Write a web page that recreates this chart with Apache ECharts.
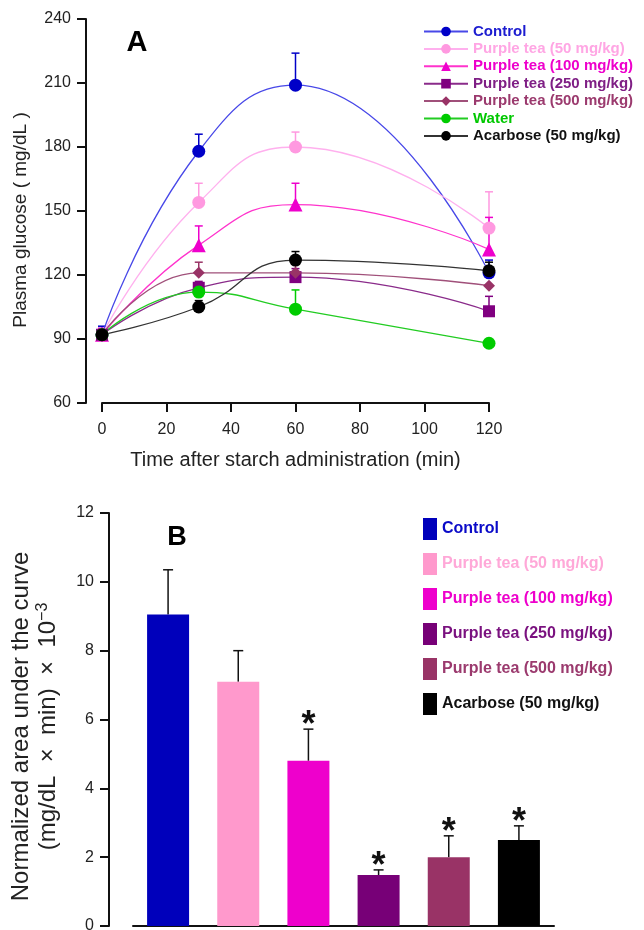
<!DOCTYPE html>
<html>
<head>
<meta charset="utf-8">
<script src="https://cdn.jsdelivr.net/npm/echarts@6/dist/echarts.min.js"></script>
<style>
  html, body { margin: 0; padding: 0; background: #fff; }
  #chart { width: 644px; height: 930px; }
</style>
</head>
<body>
<div id="chart"></div>
<script>
  // panel A: plasma glucose after starch load
  var times = [0, 30, 60, 120];
  var groupNames = ['Control', 'Purple tea (50 mg/kg)', 'Purple tea (100 mg/kg)', 'Purple tea (250 mg/kg)',
    'Purple tea (500 mg/kg)', 'Water', 'Acarbose (50 mg/kg)'];
  var control = [92, 178, 209, 121];
  var tea50 = [92, 154, 180, 142];
  var tea100 = [92, 134, 153, 132];
  var tea250 = [92, 114, 119, 103];
  var tea500 = [92, 121, 121, 115];
  var water = [92, 112, 104, 88];
  var acarbose = [92, 105, 127, 122];
  // upper error bars (SEM)
  var controlErr = [4, 8, 15, 6];
  var tea50Err = [3, 9, 7, 17];
  var tea100Err = [3, 9, 10, 15];
  var tea250Err = [2, 3, 4, 7];
  var tea500Err = [2, 5, 4, 0];
  var waterErr = [2, 2, 9, 0];
  var acarboseErr = [2, 3, 4, 4];

  // panel B: normalized AUC
  var aucNames = ['Control', 'Purple tea (50 mg/kg)', 'Purple tea (100 mg/kg)', 'Purple tea (250 mg/kg)',
    'Purple tea (500 mg/kg)', 'Acarbose (50 mg/kg)'];
  var aucValues = [9.05, 7.1, 4.8, 1.48, 2.0, 2.5];
  var aucErr = [1.3, 0.9, 0.92, 0.15, 0.62, 0.41];
  var aucSig = ['', '', '*', '*', '*', '*'];

  var groupValues = [control, tea50, tea100, tea250, tea500, water, acarbose];
  var groupErrs = [controlErr, tea50Err, tea100Err, tea250Err, tea500Err, waterErr, acarboseErr];

  var markerColors = ['#0000c8', '#ff99e0', '#ee00cc', '#800080', '#993366', '#00cc00', '#000000'];
  var lineColors = ['#4848e8', '#ffb0ee', '#ff33cc', '#8a2b8a', '#a0507a', '#22cc22', '#333333'];
  var legendTextA = ['#1c1cd0', '#ffa6e4', '#ee00cc', '#7f1f85', '#9b3a6e', '#00c800', '#111111'];
  var symbols = ['circle', 'circle', 'triangle', 'rect', 'diamond', 'circle', 'circle'];
  var symbolSizes = [13, 13, 14, 12, 12, 13, 13];

  var barColors = ['#0000bb', '#ff99cc', '#ee00cc', '#770077', '#993366', '#000000'];
  var legendTextB = ['#0a0ac8', '#ffa8d8', '#ee00cc', '#7a117f', '#9b3a6e', '#111111'];

  var FONT = "'Liberation Sans', Arial, sans-serif";

  function errorBar(color, capHalf, lw) {
    return function (params, api) {
      var x = api.value(0), y = api.value(1), e = api.value(2);
      if (!e) return;
      var p0 = api.coord([x, y]);
      var p1 = api.coord([x, y + e]);
      var kids = [
        { type: 'line', shape: { x1: p0[0], y1: p0[1], x2: p1[0], y2: p1[1] }, style: { stroke: color, lineWidth: lw } },
        { type: 'line', shape: { x1: p1[0] - capHalf, y1: p1[1], x2: p1[0] + capHalf, y2: p1[1] }, style: { stroke: color, lineWidth: lw } }
      ];
      return { type: 'group', children: kids };
    };
  }

  var series = [];

  // panel A error bars then lines
  groupNames.forEach(function (name, i) {
    series.push({
      type: 'custom',
      name: 'err-' + name,
      xAxisIndex: 0,
      yAxisIndex: 0,
      z: 2,
      silent: true,
      clip: false,
      renderItem: errorBar(markerColors[i], 4, 1.5),
      encode: { x: 0, y: 1 },
      data: times.map(function (t, k) { return [t, groupValues[i][k], groupErrs[i][k]]; })
    });
  });
  groupNames.forEach(function (name, i) {
    series.push({
      type: 'line',
      name: name,
      xAxisIndex: 0,
      yAxisIndex: 0,
      z: 3,
      smooth: 0.5,
      symbol: symbols[i],
      symbolSize: symbolSizes[i],
      lineStyle: { color: lineColors[i], width: 1.3 },
      itemStyle: { color: markerColors[i] },
      data: times.map(function (t, k) { return [t, groupValues[i][k]]; })
    });
  });

  // panel B bars, one series per group so the legend lists them
  aucNames.forEach(function (name, i) {
    series.push({
      type: 'bar',
      name: 'AUC ' + name,
      xAxisIndex: 1,
      yAxisIndex: 1,
      barWidth: 42,
      barGap: '-100%',
      itemStyle: { color: barColors[i] },
      data: aucValues.map(function (v, j) { return j === i ? v : '-'; })
    });
  });
  series.push({
    type: 'custom',
    name: 'auc-err',
    xAxisIndex: 1,
    yAxisIndex: 1,
    z: 1,
    silent: true,
    clip: false,
    encode: { x: 0, y: 1 },
    renderItem: function (params, api) {
      var i = params.dataIndex;
      var p0 = api.coord([api.value(0), api.value(1)]);
      var p1 = api.coord([api.value(0), api.value(1) + api.value(2)]);
      var kids = [
        { type: 'line', shape: { x1: p0[0], y1: p0[1], x2: p1[0], y2: p1[1] }, style: { stroke: '#111', lineWidth: 1.5 } },
        { type: 'line', shape: { x1: p1[0] - 5, y1: p1[1], x2: p1[0] + 5, y2: p1[1] }, style: { stroke: '#111', lineWidth: 1.5 } }
      ];
      if (aucSig[i]) {
        kids.push({
          type: 'text',
          style: { x: p1[0], y: p1[1] - 3, text: aucSig[i], fill: '#111', font: 'bold 36px ' + FONT, align: 'center', verticalAlign: 'middle' }
        });
      }
      return { type: 'group', children: kids };
    },
    data: aucValues.map(function (v, i) { return [i, v, aucErr[i]]; })
  });

  var chart = echarts.init(document.getElementById('chart'));
  chart.setOption({
    animation: false,
    textStyle: { fontFamily: FONT },
    graphic: [
      { type: 'text', x: 137, y: 43, style: { text: 'A', font: 'bold 29px ' + FONT, fill: '#000', align: 'center', verticalAlign: 'middle' } },
      { type: 'text', x: 177, y: 538, style: { text: 'B', font: 'bold 27px ' + FONT, fill: '#000', align: 'center', verticalAlign: 'middle' } }
    ],
    legend: [
      {
        orient: 'vertical',
        left: 423,
        top: 24,
        padding: 0,
        itemWidth: 44,
        itemHeight: 12,
        itemGap: 2.4,
        selectedMode: false,
        textStyle: { fontSize: 15, fontWeight: 'bold', fontFamily: FONT },
        data: groupNames.map(function (n, i) { return { name: n, textStyle: { color: legendTextA[i] } }; })
      },
      {
        orient: 'vertical',
        left: 423,
        top: 518,
        padding: 0,
        itemWidth: 14,
        itemHeight: 22,
        itemGap: 13,
        icon: 'rect',
        selectedMode: false,
        textStyle: { fontSize: 16, fontWeight: 'bold', fontFamily: FONT },
        formatter: function (name) { return name.replace('AUC ', ''); },
        data: aucNames.map(function (n, i) { return { name: 'AUC ' + n, textStyle: { color: legendTextB[i] } }; })
      }
    ],
    grid: [
      { left: 102, top: 19, width: 387, height: 384, outerBoundsMode: 'none' },
      { left: 133, top: 513, width: 421, height: 413, outerBoundsMode: 'none' }
    ],
    xAxis: [
      {
        type: 'value',
        gridIndex: 0,
        min: 0,
        max: 120,
        interval: 20,
        name: 'Time after starch administration (min)',
        nameLocation: 'middle',
        nameGap: 47,
        nameTextStyle: { fontSize: 20, color: '#222' },
        splitLine: { show: false },
        axisLine: { onZero: false, lineStyle: { color: '#111', width: 2 } },
        axisTick: { length: 9, lineStyle: { color: '#111', width: 2 } },
        axisLabel: { fontSize: 16, color: '#222', margin: 19 }
      },
      {
        type: 'category',
        gridIndex: 1,
        data: aucNames,
        axisLine: { onZero: false, lineStyle: { color: '#111', width: 2 } },
        axisTick: { alignWithLabel: true, length: 6, lineStyle: { color: '#111', width: 2 } },
        axisLabel: { show: false }
      }
    ],
    yAxis: [
      {
        type: 'value',
        gridIndex: 0,
        min: 60,
        max: 240,
        interval: 30,
        offset: 16,
        name: 'Plasma glucose ( mg/dL )',
        nameLocation: 'middle',
        nameGap: 56,
        nameMoveOverlap: false,
        nameTextStyle: { fontSize: 19, color: '#222', padding: [0, 18, 0, 0] },
        splitLine: { show: false },
        axisLine: { show: true, onZero: false, lineStyle: { color: '#111', width: 2 } },
        axisTick: { show: true, length: 9, lineStyle: { color: '#111', width: 2 } },
        axisLabel: { fontSize: 16, color: '#222', margin: 15 }
      },
      {
        type: 'value',
        gridIndex: 1,
        min: 0,
        max: 12,
        interval: 2,
        offset: 24,
        name: '{a|Normalized area under the curve}\n{a|(mg/dL  ×  min)  ×  10}{s|−3}',
        nameLocation: 'middle',
        nameGap: 47,
        nameMoveOverlap: false,
        nameTextStyle: {
          color: '#222',
          padding: [0, 14, 0, 0],
          rich: {
            a: { fontSize: 24, lineHeight: 27, color: '#222', fontFamily: FONT },
            s: { fontSize: 16, lineHeight: 27, color: '#222', fontFamily: FONT, verticalAlign: 'top', padding: [0, 0, 8, 0] }
          }
        },
        splitLine: { show: false },
        axisLine: { show: true, onZero: false, lineStyle: { color: '#111', width: 2 } },
        axisTick: { show: true, length: 9, lineStyle: { color: '#111', width: 2 } },
        axisLabel: { fontSize: 16, color: '#222', margin: 15 }
      }
    ],
    series: series
  });
</script>
</body>
</html>
